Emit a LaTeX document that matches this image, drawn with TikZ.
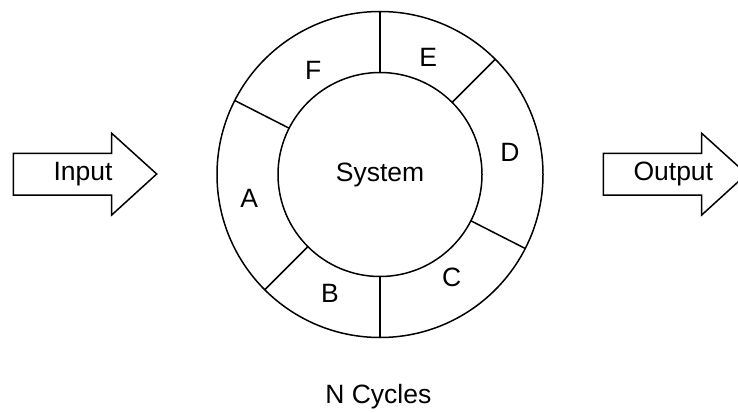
\documentclass[tikz,border=0pt]{standalone}
\usepackage{fontspec}
\setmainfont{Liberation Sans}
\begin{document}
\begin{tikzpicture}[x=1pt,y=-1pt,line width=1.5pt,line join=miter,
  lbl/.style={font=\fontsize{26.5}{30}\selectfont,inner sep=0pt,anchor=center},
  ringline/.style={draw,circle,outer sep=0pt,inner sep=0pt},
  fatarrow/.style={draw,fill=white}]
\useasboundingbox (0,0) rectangle (738,412);

% outer ring and inner system circle
\node[ringline,minimum size=326pt] (ring) at (380,174.5) {};
\node[ringline,minimum size=204pt,lbl] (sys) at (380,174.5) {System};

% dividers between the ring segments
\draw (sys.90)    -- (ring.90);
\draw (sys.45)    -- (ring.45);
\draw (sys.333.5) -- (ring.333.5);
\draw (sys.270)   -- (ring.270);
\draw (sys.225)   -- (ring.225);
\draw (sys.153.5) -- (ring.153.5);

% segment labels
\node[lbl] (F) at (313.3,70)    {F};
\node[lbl] (E) at (428.3,57)    {E};
\node[lbl] (D) at (510,152)     {D};
\node[lbl] (C) at (451.7,277)   {C};
\node[lbl] (B) at (330,293.5)   {B};
\node[lbl] (A) at (249.3,198.5) {A};

% input arrow
\draw[fatarrow] (13.3,153.3) -- (111.7,153.3) -- (111.7,133.3) -- (156.7,174)
  -- (111.7,215) -- (111.7,195) -- (13.3,195) -- cycle;
\node[lbl] (in) at (83,174) {Input};

% output arrow
\draw[fatarrow] (603.3,153.3) -- (701.7,153.3) -- (701.7,133.3) -- (746.7,174)
  -- (701.7,215) -- (701.7,195) -- (603.3,195) -- cycle;
\node[lbl] (out) at (673.3,174) {Output};

% caption
\node[lbl] (cyc) at (378.3,396.5) {N Cycles};
\end{tikzpicture}
\end{document}
